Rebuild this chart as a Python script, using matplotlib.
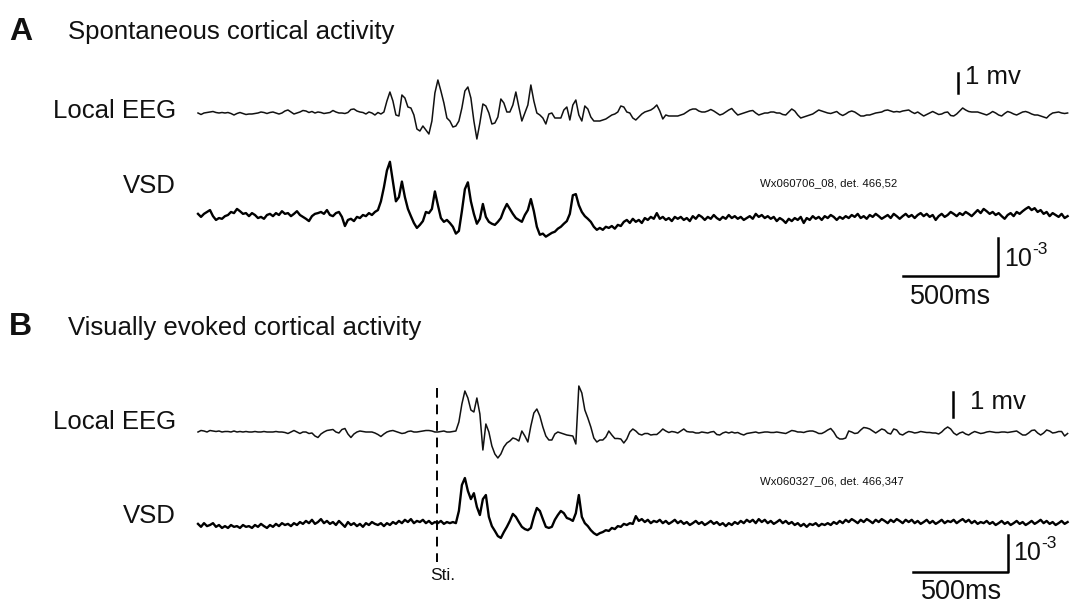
import numpy as np
import matplotlib
matplotlib.use('Agg')
import matplotlib.pyplot as plt

plt.rcParams['font.family'] = ['Liberation Sans', 'DejaVu Sans']

dt = 15.7
stim_ms = 1251

# A: spontaneous activity
eeg_a_uv = [0, -75, 0, 25, 50, 75, 25, 0, 25, 0, 25, -25, -100, -25, 25, -25, -75, -50, -50, -25,
            0, 50, 25, -25, 25, 50, 0, -50, 0, 100, 150, 50, -50, 0, 50, 125, 100, 25, 75, 0,
            50, 25, -25, 0, 25, 125, 50, 0, 0, -25, 25, 175, 200, 100, 50, 25, -50, 50, 0, -100,
            25, -50, 50, 600, 1050, 600, -100, -150, 900, 750, 300, 250, -100, -800, -900, -650, -850, -1050, -400, 1000,
            1650, 1100, 500, -250, -400, -700, -650, -400, 250, 1100, 1300, 750, -400, -1300, -500, 450, 350, 0, -550, -500,
            -200, 700, 500, 50, 50, 400, 1050, 300, -400, 0, 400, 1400, 600, 0, -100, -250, -550, -50, 0, -250,
            -250, -250, 150, 300, -350, 400, 650, -100, -400, 350, 200, -200, -400, -400, -400, -350, -300, -200, -100, -50,
            50, 350, 300, 50, 0, -250, -350, -200, -50, 50, 100, 150, 250, 400, 100, -300, -100, -150, -150, -150,
            -150, -100, -50, 50, 150, 200, 200, 100, 50, 50, 100, 175, 100, 0, -100, -50, 50, 150, 225, 50,
            -100, -50, 0, 50, 100, 125, 0, -100, -50, 0, 0, 50, 50, 0, 0, -75, -100, 50, 200, 100,
            -100, -250, -200, -150, -100, -50, 50, 150, 100, 50, 0, -25, 25, 75, -50, -125, -50, 50, 100, 50,
            -50, -150, -150, -100, -100, -50, 0, 25, 50, 125, 150, 100, 50, 75, 50, 100, 125, 150, 50, -25,
            50, -50, -150, -75, 0, 75, 0, -75, -50, 25, 50, -125, -150, -50, 100, 250, 150, 75, 50, 50,
            50, 0, -50, -100, -25, 75, 0, -100, -150, -25, 75, 25, -50, -100, -25, 50, 75, 25, -50, -100,
            -100, -150, -200, -250, -100, 0, 25, 50, 0, -25, 0]

vsd_a = [3, -5, 3, 8, 13, -3, -13, -8, -10, -3, 0, 8, 5, 16, 10, 3, 5, -3, 5, 0,
         -8, -5, -10, 0, 3, -3, 5, 0, 10, 3, 5, -3, 3, 10, 0, -5, -10, -16, -3, 3,
         5, 8, 3, 13, 0, -3, 5, 8, -5, -29, -13, -10, -16, -5, -8, 0, -3, 5, 0, 8,
         13, 36, 73, 117, 140, 88, 36, 47, 88, 47, 16, -3, -21, -34, -26, -16, 8, 5, 16, 62,
         26, -8, -18, -13, -21, -31, -49, -42, 10, 68, 86, 36, 3, -23, -10, 29, -5, -18, -23, -26,
         -18, -8, 13, 29, 16, 3, -8, -13, -18, 0, 13, 42, 10, -31, -52, -49, -57, -52, -47, -44,
         -36, -31, -23, -16, 3, 52, 55, 26, 8, -3, -10, -18, -31, -39, -34, -39, -31, -34, -29, -36,
         -26, -29, -18, -13, -21, -10, -18, -13, -21, -8, -13, -5, -10, 5, -10, -5, -13, -8, -16, -5,
         -10, -5, -13, -8, -16, -3, -10, 0, -5, -13, -5, -10, 0, -8, -13, -5, -10, 0, -8, -3,
         -10, -5, -13, -8, -3, -10, 3, -5, 0, -8, -3, -10, -5, -16, -8, -13, -21, -10, -16, -8,
         -13, -5, -21, -8, -13, -3, -10, -5, -13, -3, -8, 0, -5, -13, -5, -10, -3, -8, 0, -5,
         3, -8, -3, -10, 0, -5, 3, -3, -10, -5, 0, -8, 3, -3, -10, -3, 3, -5, 0, -8,
         0, 5, -3, 3, -5, 0, -13, -3, 3, -5, 0, 8, 3, -3, 5, 0, 8, 3, -3, 5,
         13, 5, 16, 10, 3, 8, 0, 5, -3, -10, 0, 5, -3, 8, 3, 10, 16, 21, 13, 18,
         8, 13, 3, 8, -3, 5, 0, -5, 3, -8, -3]

# B: visually evoked activity
eeg_b_uv = [0, 60, 40, 0, 60, 40, 20, 40, 0, 20, 20, 0, 40, 0, 20, 0, 20, 0, 0, 20,
            0, 0, 20, 0, 0, 0, 20, 0, 0, -20, -60, 0, 60, 0, -60, 0, 0, -60, -40, -160,
            -220, -80, 0, 60, 80, 100, 0, -40, 100, 140, -80, -220, -80, 0, 40, 20, 0, 0, 0, -40,
            -100, -180, -80, 0, 40, 60, 20, -20, -60, -40, 20, 40, 0, 0, 20, 40, 60, 60, 40, 0,
            0, 20, 40, 0, 0, 20, 40, 400, 1120, 1640, 1360, 880, 800, 1360, 720, -720, 320, 0, -560, -880,
            -1040, -880, -600, -440, -360, -240, -280, -360, 40, -160, -400, 240, 760, 920, 640, 200, -160, -320, -320, -80,
            0, -40, -80, -120, -140, -160, -480, 1840, 1560, 880, 560, 200, -240, -400, -320, -320, -200, 40, -120, -260,
            -260, -280, -440, -280, 0, 120, 40, -80, -120, -60, -60, -120, -100, -100, 0, 120, 40, -20, 20, 0,
            -40, 40, 120, 20, 0, 0, -40, -40, 0, -20, -40, 0, 20, -100, -120, -40, 0, -40, 0, -40,
            -20, -80, -120, -60, -40, -20, 0, -40, -20, 0, 0, -20, -20, 0, -20, -40, -60, 0, 60, 40,
            0, 0, -20, 20, 40, 40, 0, -60, -60, 0, 80, 140, 0, -200, -280, -280, -240, 40, 0, -60,
            -40, 80, 180, 160, 120, 40, -40, 40, 120, 80, -40, -80, 120, 80, -80, -120, -40, 20, 0, -40,
            -20, 20, 0, -20, -20, -40, -40, -80, 0, 120, 200, 120, -40, -120, -40, 0, -80, -120, -40, 20,
            -20, -60, -40, 0, 20, 0, -20, -20, 0, 0, -20, 0, 20, 40, -40, -120, -120, -40, 60, 80,
            -40, -120, -40, 80, 40, -40, -20, 20, 20, -160, -60]

vsd_b = [3, -5, 5, -3, 0, 5, -5, 0, -8, -3, -8, 0, -5, -3, -8, 0, -5, -3, -8, 0,
         -5, 3, -3, -8, 0, -5, 3, -3, 5, 0, 3, -3, 5, 0, 8, 3, 11, 5, 14, 3,
         8, 16, 5, 11, 3, 8, 0, 11, 3, -5, 8, 0, 5, -3, 3, -5, 5, 0, 8, 3,
         0, 5, -3, 5, 0, 8, 3, 11, 5, 14, 8, 16, 5, 11, 8, 14, 5, 11, 3, 8,
         5, 11, 3, 8, 5, 8, 5, 38, 108, 127, 92, 70, 86, 49, 27, 70, 81, 22, -3, -16,
         -30, -35, -19, -5, 11, 30, 22, 8, -5, -11, -14, -8, 22, 46, 38, 16, -5, -8, -5, 14,
         27, 38, 32, 19, 16, 11, 32, 81, 22, 5, -3, -14, -22, -27, -22, -19, -14, -16, -8, -11,
         -3, -5, 3, 0, 5, 3, 24, 11, 16, 8, 14, 5, 11, 8, 14, 5, 11, 3, 8, 14,
         5, 11, 3, 8, 0, 5, 11, 3, 8, 0, 5, 11, 3, 8, 0, 5, -3, 5, 0, 8,
         3, 11, 5, 14, 8, 14, 5, 16, 8, 14, 5, 11, 3, 8, 14, 5, 11, 3, 8, 0,
         5, -3, 3, -5, 3, 0, 5, -3, 3, 0, 5, 0, 8, 3, 11, 5, 14, 8, 16, 11,
         5, 14, 8, 16, 11, 5, 14, 8, 16, 11, 5, 14, 8, 16, 11, 5, 14, 8, 14, 5,
         11, 3, 8, 14, 5, 11, 3, 8, 14, 5, 11, 8, 14, 5, 11, 16, 8, 14, 5, 11,
         3, 8, 5, 11, 3, 8, 0, 5, 11, 3, 8, 0, 5, 11, 3, 8, 0, 5, 11, 3,
         8, 14, 5, 11, 3, 8, 0, 5, 11, 3, 8]

W, H = 1070, 604
fig = plt.figure(figsize=(W / 100, H / 100), dpi=100)

px_ms = 500 / 95.5          # ms per pixel horizontally
x0 = 198                    # pixel where t = 0


def trace_axes(base_px, px_per_unit):
    ax = fig.add_axes([0, 0, 1, 1])
    ax.set_xlim(-x0 * px_ms, (W - x0) * px_ms)
    ax.set_ylim(-(H - base_px) / px_per_unit, base_px / px_per_unit)
    ax.axis('off')
    ax.patch.set_alpha(0)
    return ax


def ftext(x, y, s, **kw):
    fig.text(x / W, 1 - y / H, s, va='center', color='#111111', **kw)


def power_label(x, y):
    # "10" with a raised "-3", plain hyphen as in the original
    ftext(x, y, '10', fontsize=18)
    ftext(x + 28, y - 9, '-3', fontsize=12.5)


# ---- panel A ----
ax1 = trace_axes(113, 20)      # mV
v = np.array(eeg_a_uv) / 1000
ax1.plot(np.arange(len(v)) * dt, v, color='#111111', lw=1.1)
ax1.plot([3980, 3980], [1, 2], color='black', lw=1.8)

ax2 = trace_axes(215, 38 / 100)   # units of 1e-5
v = np.array(vsd_a)
ax2.plot(np.arange(len(v)) * dt, v, color='black', lw=1.7)
ax2.plot([3689, 4189, 4189], [-160, -160, -60], color='black', lw=1.8)

ftext(9, 32, 'A', fontsize=23, fontweight='bold')
ftext(68, 32, 'Spontaneous cortical activity', fontsize=18.5)
ftext(176, 111, 'Local EEG', fontsize=18.5, ha='right')
ftext(176, 186, 'VSD', fontsize=18.5, ha='right')
ftext(965, 77, '1 mv', fontsize=18.5)
ftext(760, 183, 'Wx060706_08, det. 466,52', fontsize=8.2)
power_label(1004, 259)
ftext(951, 297, '500ms', fontsize=19.5, ha='center')

# ---- panel B ----
ax3 = trace_axes(432, 25)      # mV
v = np.array(eeg_b_uv) / 1000
ax3.plot(np.arange(len(v)) * dt, v, color='#111111', lw=1.1)
ax3.plot([3953, 3953], [0.6, 1.6], color='black', lw=1.8)
ax3.plot([stim_ms, stim_ms], [1.76, -5.2], color='black', lw=1.4, dashes=(5, 3.5))

ax4 = trace_axes(525, 37 / 100)   # units of 1e-5
v = np.array(vsd_b)
ax4.plot(np.arange(len(v)) * dt, v, color='black', lw=1.7)
ax4.plot([3741, 4241, 4241], [-127, -127, -27], color='black', lw=1.8)

ftext(9, 327, 'B', fontsize=23, fontweight='bold')
ftext(68, 328, 'Visually evoked cortical activity', fontsize=18.5)
ftext(176, 422, 'Local EEG', fontsize=18.5, ha='right')
ftext(176, 516, 'VSD', fontsize=18.5, ha='right')
ftext(970, 402, '1 mv', fontsize=18.5)
ftext(760, 481, 'Wx060327_06, det. 466,347', fontsize=8.2)
power_label(1013, 553)
ftext(962, 592, '500ms', fontsize=19.5, ha='center')
ftext(443, 575, 'Sti.', fontsize=12.5, ha='center')

fig.savefig('out.png', dpi=100, facecolor='white')
